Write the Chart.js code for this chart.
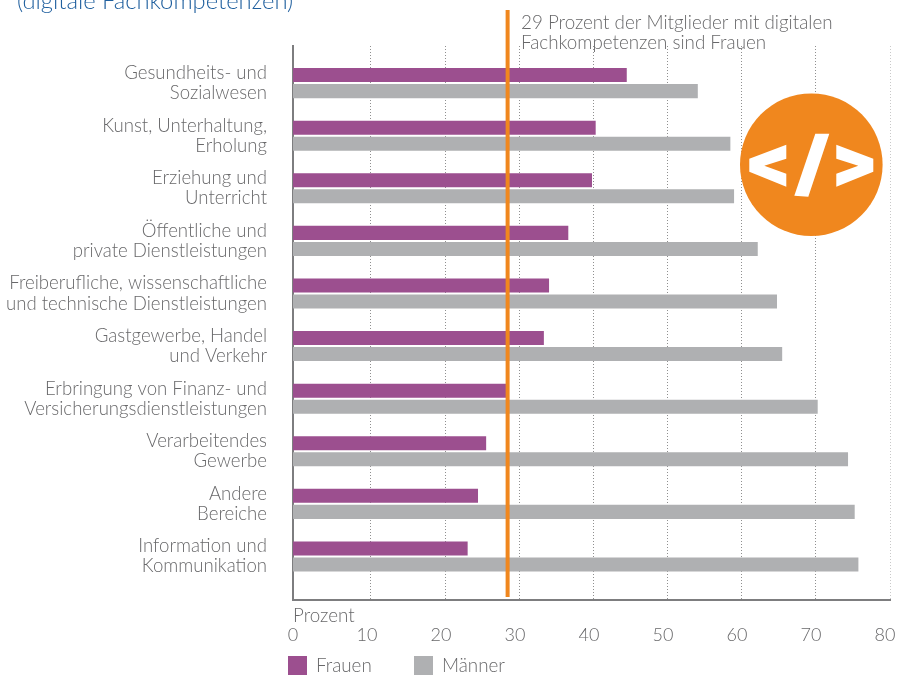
<!DOCTYPE html>
<html>
<head>
<meta charset="utf-8">
<style>
html, body { margin: 0; padding: 0; background: #fff; }
canvas { display: block; }
</style>
<script src="https://cdn.jsdelivr.net/npm/chart.js@4"></script>
</head>
<body>
<canvas id="chart" width="916" height="675"></canvas>
<script>
const categories = [
    ['Gesundheits- und', 'Sozialwesen'],
    ['Kunst, Unterhaltung,', 'Erholung'],
    ['Erziehung und', 'Unterricht'],
    ['Öffentliche und', 'private Dienstleistungen'],
    ['Freiberufliche, wissenschaftliche', 'und technische Dienstleistungen'],
    ['Gastgewerbe, Handel', 'und Verkehr'],
    ['Erbringung von Finanz- und', 'Versicherungsdienstleistungen'],
    ['Verarbeitendes', 'Gewerbe'],
    ['Andere', 'Bereiche'],
    ['Information und', 'Kommunikation']
];
const frauen = [45.1, 40.9, 40.4, 37.2, 34.6, 33.9, 28.9, 26.1, 25.0, 23.6];
const maenner = [54.7, 59.1, 59.6, 62.8, 65.4, 66.1, 70.9, 75.0, 75.9, 76.4];
const xTicks = [0, 10, 20, 30, 40, 50, 60, 70, 80];
const marker = 29;

const FONT = 'Lato, "Open Sans", sans-serif';
const GREY = '#68686a';
const ORANGE = '#f0871e';
const PURPLE = '#9c4f8f';
const SILVER = '#afb0b2';

function toPoints(values) {
    return values.map((v, i) => ({ x: v, y: i }));
}

function poly(ctx, ox, oy, pts) {
    ctx.beginPath();
    pts.forEach((p, i) => {
        if (i === 0) ctx.moveTo(ox + p[0], oy + p[1]);
        else ctx.lineTo(ox + p[0], oy + p[1]);
    });
    ctx.closePath();
    ctx.fill();
}

// text, orange marker line and the code badge
const extras = {
    id: 'extras',
    afterDatasetsDraw(chart) {
        const ctx = chart.ctx;
        const xs = chart.scales.x;
        ctx.save();

        // marker line
        const mx = xs.getPixelForValue(marker);
        ctx.strokeStyle = ORANGE;
        ctx.lineWidth = 4;
        ctx.beginPath();
        ctx.moveTo(mx, 10);
        ctx.lineTo(mx, 597);
        ctx.stroke();

        ctx.textBaseline = 'alphabetic';
        ctx.textAlign = 'left';

        ctx.fillStyle = '#1f5f9e';
        ctx.font = '300 23.8px ' + FONT;
        ctx.fillText('(digitale Fachkompetenzen)', 17, 9);

        ctx.fillStyle = GREY;
        ctx.font = '300 18.8px ' + FONT;
        ctx.fillText('29 Prozent der Mitglieder mit digitalen', 521, 29);
        ctx.fillText('Fachkompetenzen sind Frauen', 521, 49);
        ctx.fillText('Prozent', 293, 622);

        // legend
        ctx.fillStyle = PURPLE;
        ctx.fillRect(288, 656, 19, 19);
        ctx.fillStyle = SILVER;
        ctx.fillRect(414, 656, 19, 19);
        ctx.fillStyle = GREY;
        ctx.fillText('Frauen', 316, 672);
        ctx.fillText('Männer', 442, 672);

        // badge
        const bx = 811.3, by = 164.7;
        ctx.fillStyle = ORANGE;
        ctx.beginPath();
        ctx.arc(bx, by, 71.3, 0, Math.PI * 2);
        ctx.fill();
        ctx.fillStyle = '#fff';
        poly(ctx, bx, by, [[-62, -6], [-25, -20], [-25, -6], [-47, 1], [-25, 9], [-25, 22], [-62, 7]]);
        poly(ctx, bx, by, [[4, -31], [18, -31], [-3, 32], [-17, 31]]);
        poly(ctx, bx, by, [[25, -20], [62, -6], [62, 7], [25, 22], [25, 9], [47, 1], [25, -6]]);
        ctx.restore();
    }
};

new Chart(document.getElementById('chart').getContext('2d'), {
    type: 'bar',
    data: {
        datasets: [
            { label: 'Frauen', data: toPoints(frauen), backgroundColor: PURPLE },
            { label: 'Männer', data: toPoints(maenner), backgroundColor: SILVER }
        ]
    },
    options: {
        indexAxis: 'y',
        responsive: false,
        animation: false,
        categoryPercentage: 0.61,
        barPercentage: 0.875,
        layout: { padding: { top: 46, right: 26, left: 0, bottom: 0 } },
        plugins: {
            legend: { display: false },
            tooltip: { enabled: false }
        },
        scales: {
            x: {
                type: 'linear',
                min: 0,
                max: 80.67,
                afterBuildTicks: (s) => { s.ticks = xTicks.map((v) => ({ value: v })); },
                afterFit: (s) => { s.height = 75; s.paddingLeft = 0; s.paddingRight = 0; },
                grid: { display: false, drawTicks: false },
                border: { color: '#7d7d7f', width: 2 },
                ticks: {
                    autoSkip: false,
                    maxRotation: 0,
                    padding: 24,
                    color: GREY,
                    font: { family: FONT, size: 18, weight: '300' }
                }
            },
            // dotted lines sit slightly right of the labelled positions
            xGrid: {
                type: 'linear',
                axis: 'x',
                position: 'top',
                min: -0.51,
                max: 80,
                afterBuildTicks: (s) => { s.ticks = xTicks.slice(1).map((v) => ({ value: v })); },
                afterFit: (s) => { s.paddingLeft = 0; s.paddingRight = 0; },
                ticks: { display: false },
                border: { display: false, dash: [1, 2] },
                grid: {
                    drawTicks: false,
                    color: (c) => (c.tick && c.tick.value === 80 ? '#c9c9c9' : '#8f8f8f')
                }
            },
            y: {
                type: 'linear',
                reverse: true,
                offset: false,
                min: -0.704,
                max: 9.828,
                afterBuildTicks: (s) => { s.ticks = categories.map((c, i) => ({ value: i })); },
                afterFit: (s) => { s.width = 293; },
                grid: { display: false, drawTicks: false },
                border: { color: '#7d7d7f', width: 2 },
                ticks: {
                    autoSkip: false,
                    padding: 26,
                    color: GREY,
                    font: { family: FONT, size: 18.6, weight: '300', lineHeight: 1.08 },
                    callback: (v) => categories[v]
                }
            }
        }
    },
    plugins: [extras]
});
</script>
</body>
</html>
